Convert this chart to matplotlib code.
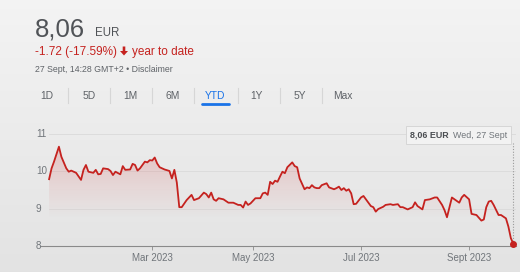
import numpy as np
import pandas as pd
import matplotlib
matplotlib.use("Agg")
import matplotlib.pyplot as plt
from matplotlib.patches import Rectangle, PathPatch, FancyArrow

plt.rcParams["font.family"] = ["Liberation Sans", "DejaVu Sans"]

# ---------------------------------------------------------------------------
# Data (trading-day closes, EUR)
# ---------------------------------------------------------------------------
DATES = [
    "2023-01-02", "2023-01-03", "2023-01-04", "2023-01-06", "2023-01-09",
    "2023-01-11", "2023-01-12", "2023-01-13", "2023-01-17", "2023-01-19",
    "2023-01-20", "2023-01-23", "2023-01-24", "2023-01-26", "2023-01-27",
    "2023-01-30", "2023-01-31", "2023-02-01", "2023-02-03", "2023-02-06",
    "2023-02-07", "2023-02-08", "2023-02-10", "2023-02-13", "2023-02-14",
    "2023-02-16", "2023-02-17", "2023-02-20", "2023-02-21", "2023-02-22",
    "2023-02-24", "2023-02-27", "2023-02-28", "2023-03-01", "2023-03-02",
    "2023-03-03", "2023-03-06", "2023-03-08", "2023-03-10", "2023-03-13",
    "2023-03-14", "2023-03-15", "2023-03-16", "2023-03-17", "2023-03-21",
    "2023-03-23", "2023-03-24", "2023-03-28", "2023-03-30", "2023-03-31",
    "2023-04-03", "2023-04-04", "2023-04-05", "2023-04-06", "2023-04-11",
    "2023-04-13", "2023-04-17", "2023-04-19", "2023-04-21", "2023-04-24",
    "2023-04-25", "2023-04-26", "2023-04-27", "2023-04-28", "2023-05-03",
    "2023-05-05", "2023-05-08", "2023-05-09", "2023-05-10", "2023-05-11",
    "2023-05-12", "2023-05-15", "2023-05-16", "2023-05-17", "2023-05-18",
    "2023-05-19", "2023-05-22", "2023-05-24", "2023-05-25", "2023-05-26",
    "2023-05-29", "2023-05-31", "2023-06-01", "2023-06-02", "2023-06-05",
    "2023-06-06", "2023-06-07", "2023-06-08", "2023-06-09", "2023-06-13",
    "2023-06-14", "2023-06-16", "2023-06-19", "2023-06-20", "2023-06-21",
    "2023-06-22", "2023-06-23", "2023-06-26", "2023-06-27", "2023-06-28",
    "2023-06-29", "2023-07-03", "2023-07-04", "2023-07-05", "2023-07-07",
    "2023-07-10", "2023-07-11", "2023-07-12", "2023-07-14", "2023-07-17",
    "2023-07-19", "2023-07-20", "2023-07-24", "2023-07-25", "2023-07-26",
    "2023-07-28", "2023-08-01", "2023-08-02", "2023-08-03", "2023-08-07",
    "2023-08-08", "2023-08-10", "2023-08-14", "2023-08-15", "2023-08-17",
    "2023-08-18", "2023-08-21", "2023-08-23", "2023-08-28", "2023-08-29",
    "2023-08-30", "2023-09-01", "2023-09-04", "2023-09-06", "2023-09-08",
    "2023-09-11", "2023-09-12", "2023-09-13", "2023-09-14", "2023-09-15",
    "2023-09-19", "2023-09-20", "2023-09-22", "2023-09-25", "2023-09-26",
    "2023-09-27",
]
PRICES = [
    9.79, 10.08, 10.26, 10.66, 10.39,
    10.08, 9.99, 10.02, 9.96, 9.77,
    10.04, 10.17, 9.99, 9.96, 10.04,
    9.92, 9.93, 10.08, 10.06, 10.01,
    9.90, 9.99, 9.92, 10.14, 10.04,
    10.05, 10.20, 10.17, 10.02, 10.08,
    10.26, 10.24, 10.30, 10.29, 10.37,
    10.21, 10.11, 10.05, 10.01, 9.81,
    10.04, 9.70, 9.04, 9.04, 9.23,
    9.37, 9.23, 9.28, 9.43, 9.39,
    9.30, 9.43, 9.25, 9.21, 9.28,
    9.25, 9.16, 9.16, 9.10, 9.10,
    9.03, 9.19, 9.10, 9.14, 9.28,
    9.28, 9.41, 9.43, 9.37, 9.72,
    9.66, 9.75, 9.72, 9.86, 9.99,
    9.95, 10.11, 10.24, 10.14, 10.11,
    9.81, 9.52, 9.57, 9.55, 9.63,
    9.57, 9.55, 9.55, 9.63, 9.68,
    9.57, 9.52, 9.55, 9.59, 9.50,
    9.55, 9.48, 9.52, 9.41, 9.12,
    9.13, 9.30, 9.34, 9.25, 9.07,
    9.04, 8.92, 8.99, 9.05, 9.10,
    9.12, 9.10, 9.12, 9.04, 9.04,
    8.98, 9.04, 9.17, 9.07, 8.98,
    9.23, 9.25, 9.30, 9.30, 9.10,
    8.96, 8.77, 9.30, 9.16, 9.30,
    9.37, 9.25, 8.86, 8.83, 8.68,
    8.71, 9.04, 9.19, 9.21, 9.10,
    8.83, 8.83, 8.74, 8.52, 8.21,
    8.06,
]
HOLIDAYS = ["2023-04-07", "2023-04-10", "2023-05-01"]   # Xetra closed
TICK_DATES = ["2023-03-01", "2023-05-02", "2023-07-03", "2023-09-01"]
TICK_LABELS = ["Mar 2023", "May 2023", "Jul 2023", "Sept 2023"]
Y_TICKS = [8, 9, 10, 11]
TABS = ["1D", "5D", "1M", "6M", "YTD", "1Y", "5Y", "Max"]

# x axis runs over trading days, like the source chart
cal = pd.bdate_range("2023-01-02", "2023-09-27")
cal = cal[~cal.isin(pd.to_datetime(HOLIDAYS))]
pos = {d: i for i, d in enumerate(cal)}
x = np.array([pos[pd.Timestamp(d)] for d in DATES], dtype=float)
y = np.array(PRICES)
xt = [pos[pd.Timestamp(d)] for d in TICK_DATES]

RED = "#c5221f"
GREY = "#70757a"
W, H = 520, 272

def fx(px):
    return px / W

def fy(py):
    return 1 - py / H

fig = plt.figure(figsize=(5.2, 2.72), dpi=100)

# background gradient
bg = fig.add_axes([0, 0, 1, 1], zorder=-10)
g = np.linspace(0, 1, 256)[:, None]
top, bot = np.array([0.955, 0.955, 0.955]), np.array([0.89, 0.89, 0.89])
img = top + (bot - top) * g[..., None]
bg.imshow(np.repeat(img, 2, axis=1), aspect="auto", extent=[0, 1, 0, 1])
bg.axis("off")

# ── header ────────────────────────────────────────────────────────────────
fig.text(fx(35), fy(36.5), "8,06", fontsize=18.5, color="#505357", va="baseline")
fig.text(fx(95), fy(36.5), "EUR", fontsize=8.3, color="#505357", va="baseline")
fig.text(fx(35), fy(55.5), "-1.72 (-17.59%)", fontsize=8.5, color=RED, va="baseline")
# heavy down arrow
fig.add_artist(FancyArrow(fx(124), fy(46.5), 0, -9 / H, width=2.6 / W,
                          head_width=8 / W, head_length=4.5 / H,
                          length_includes_head=True, color=RED, lw=0))
fig.text(fx(131.5), fy(55.5), "year to date", fontsize=8.5, color=RED, va="baseline")
fig.text(fx(35), fy(72.5), "27 Sept, 14:28 GMT+2 \u2022 Disclaimer",
         fontsize=6.3, color="#5f6368", va="baseline")

tab_x = [47, 88.7, 130.7, 172.3, 215.3, 256.7, 300, 343.3]
sep_x = [68, 109.5, 152, 193.5, 238, 279.5, 322]
for t, tx in zip(TABS, tab_x):
    col = "#1a73e8" if t == "YTD" else "#5f6368"
    fig.text(fx(tx), fy(96), t, fontsize=7.4, color=col, ha="center", va="center")
for sx in sep_x:
    fig.add_artist(plt.Line2D([fx(sx), fx(sx)], [fy(88), fy(103)],
                              color="#d6d6d6", lw=0.8))
fig.add_artist(plt.Line2D([fx(202), fx(229)], [fy(104.3), fy(104.3)],
                          color="#1a73e8", lw=2.0, solid_capstyle="round"))

# ── chart ─────────────────────────────────────────────────────────────────
AX_L, AX_R = 41, 516
ax = fig.add_axes([fx(AX_L), fy(246), fx(AX_R - AX_L), (246 - 134) / H])
ax.patch.set_alpha(0)
ax.set_xlim(-3.3, 190.1)
ax.set_ylim(8, 11)

for yy in Y_TICKS[1:]:
    ax.axhline(yy, xmin=(49 - AX_L) / (AX_R - AX_L), color="#dadada", lw=0.6, zorder=0)

# gradient fill below the line
poly = ax.fill_between(x, y, 8, color="none", lw=0)
patch = PathPatch(poly.get_paths()[0], transform=ax.transData,
                  facecolor="none", edgecolor="none")
ax.add_patch(patch)
ny = 200
yy_grid = np.linspace(8, 11, ny)
alpha = np.clip((yy_grid - 8.75) / (10.7 - 8.75), 0, 1) * 0.28
rgba = np.zeros((ny, 1, 4))
rgba[..., 0], rgba[..., 1], rgba[..., 2] = 0.85, 0.35, 0.35
rgba[..., 3] = alpha[:, None]
gim = ax.imshow(rgba, extent=[x[0], x[-1], 8, 11], origin="lower",
                aspect="auto", zorder=1)
gim.set_clip_path(patch)

ax.plot(x, y, color=RED, lw=1.3, zorder=3, solid_joinstyle="round")
ax.plot([x[-1], x[-1]], [y[-1], 10.76], color="#9a9a9a", lw=0.8, ls=(0, (1, 1.5)),
        zorder=2, clip_on=False)
ax.plot(x[-1], y[-1], "o", ms=4, color=RED, zorder=4, clip_on=False)

for s in ["top", "right", "left"]:
    ax.spines[s].set_visible(False)
ax.spines["bottom"].set_color("#8a8a8a")
ax.spines["bottom"].set_linewidth(0.8)

ax.set_xticks(xt)
ax.set_xticklabels(TICK_LABELS)
ax.tick_params(axis="x", length=3, width=0.6, color="#8a8a8a", labelsize=7,
               labelcolor=GREY, pad=2)
ax.set_yticks([])
# y labels left-aligned at x=36 px, as in the source
for yv in Y_TICKS:
    ax.text((36 - AX_L) / (AX_R - AX_L), yv, str(yv),
            transform=ax.get_yaxis_transform(),
            ha="left", va="center", fontsize=7.1, color=GREY)

# tooltip
fig.add_artist(Rectangle((fx(406), fy(144)), fx(105), 18 / H,
                         facecolor="#f2f2f2", edgecolor="#d2d2d2", lw=0.6))
fig.text(fx(410), fy(135), "8,06 EUR", fontsize=6.4, fontweight="bold",
         color="#4a4d51", va="center")
fig.text(fx(453), fy(135), "Wed, 27 Sept", fontsize=6.4, color="#70757a",
         va="center")

fig.savefig("out.png", dpi=100)
